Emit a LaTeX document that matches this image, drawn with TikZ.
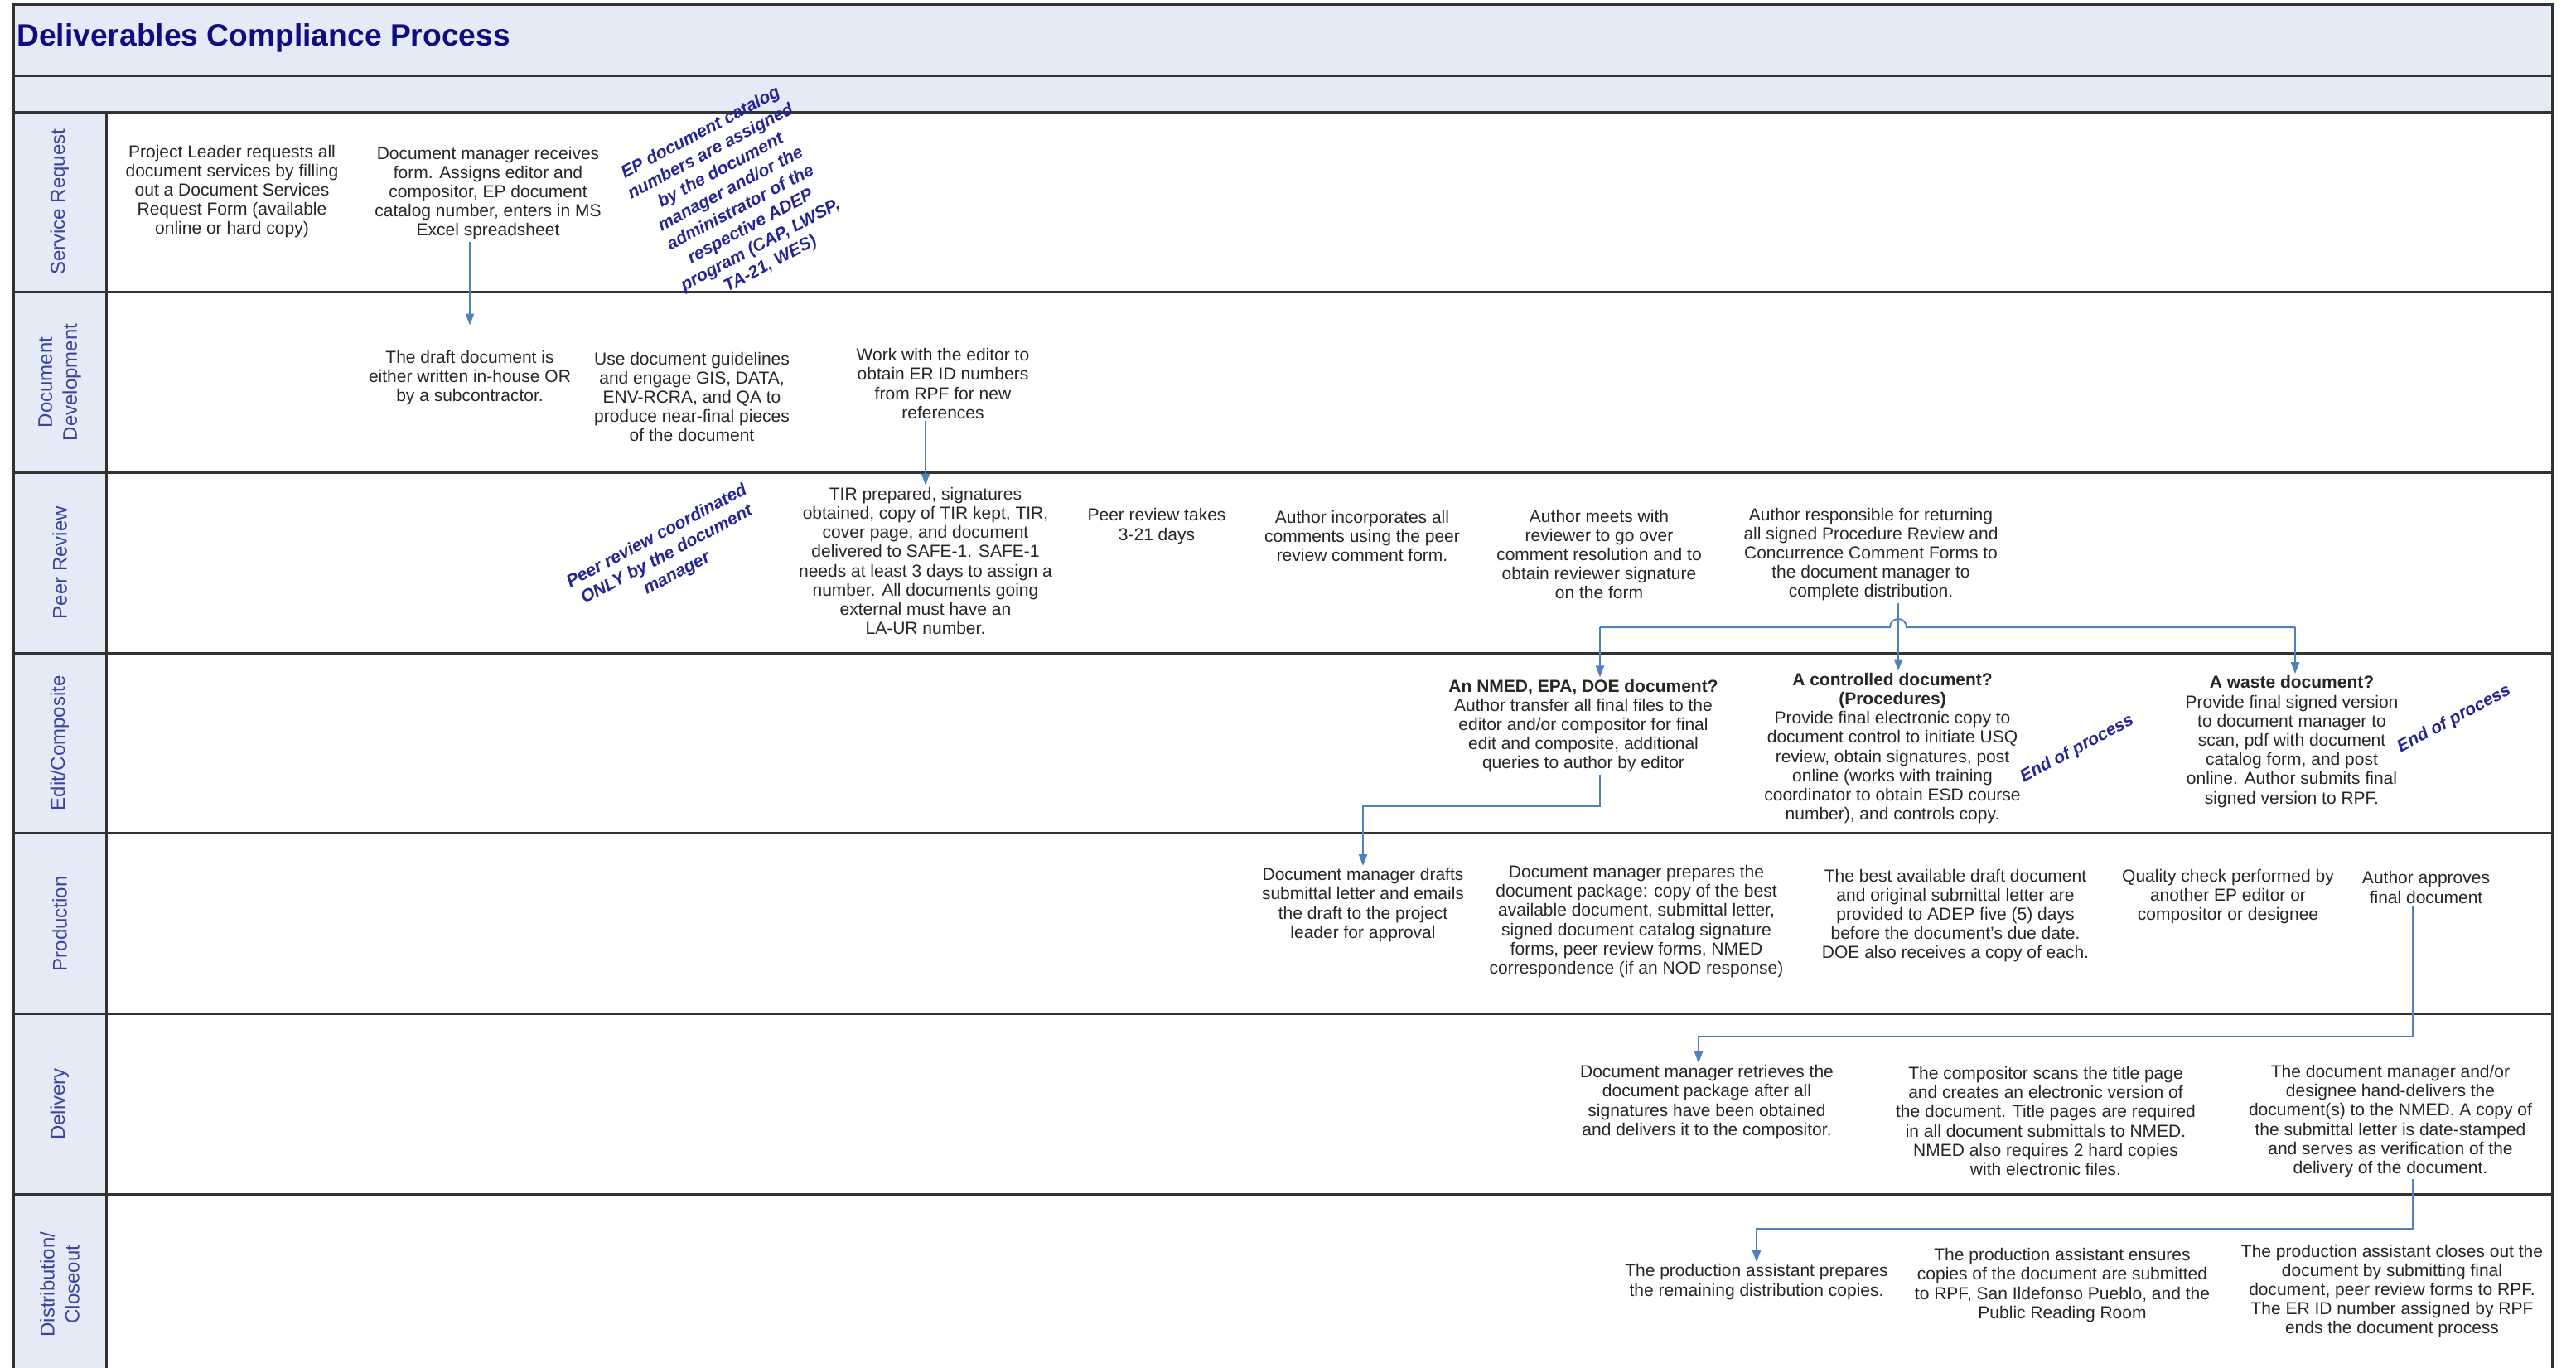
\documentclass[tikz,border=0pt]{standalone}
\usepackage{fontspec}
\setmainfont{Liberation Sans}
\usetikzlibrary{arrows.meta}

\definecolor{bandfill}{RGB}{228,235,246}
\definecolor{titleblue}{RGB}{14,14,130}
\definecolor{lanetext}{RGB}{58,68,160}
\definecolor{noteblue}{RGB}{36,36,150}
\definecolor{flowblue}{RGB}{79,129,189}
\definecolor{bodytext}{RGB}{38,38,38}
\definecolor{lanerule}{RGB}{50,50,50}

\begin{document}
\begin{tikzpicture}[x=0.5pt, y=-0.5pt,
    task/.style={align=center, text=bodytext, inner sep=1pt,
      font=\fontsize{10.5}{11.6}\selectfont},
    note/.style={align=center, text=noteblue, rotate=28, inner sep=1pt,
      font=\fontsize{10.5}{12.8}\selectfont\bfseries\itshape},
    lanelabel/.style={rotate=90, align=center, text=lanetext,
      font=\fontsize{12}{15}\selectfont},
    sep/.style={lanerule, line width=1.5pt},
    link/.style={flowblue, line width=1pt},
    flow/.style={link, -{Triangle[length=7pt,width=5pt]}}
  ]
  \clip (0,0) rectangle (3109,1650);

  % header bands and lane column
  \fill[bandfill] (16,5) rectangle (3080,135);
  \fill[bandfill] (16,135) rectangle (128,1700);
  \draw[sep] (16,91) -- (3080,91);
  \draw[sep] (16,135) -- (3080,135);
  \draw[sep] (128,135) -- (128,1700);
  \foreach \lbl [count=\i from 0] in {Service Request, {Document\\Development},
      Peer Review, Edit/Composite, Production, Delivery, {Distribution/\\Closeout}} {
    \node[lanelabel] (lane\i) at (72, {243.85+217.7*\i}) {\lbl};
    \draw[sep] (16, {352.7+217.7*\i}) -- (3080, {352.7+217.7*\i});
  }
  \draw[sep] (16,5) rectangle (3080,1700);

  \node[anchor=west, inner sep=0pt, text=titleblue,
    font=\fontsize{18.6}{22}\selectfont\bfseries] (title) at (20,46)
    {Deliverables Compliance Process};

  % service request
  \node[task] (proj) at (280,231) {Project Leader requests all\\document services by filling\\out a Document Services\\Request Form (available\\online or hard copy)};
  \node[task] (recv) at (589,233) {Document manager receives\\form. Assigns editor and\\compositor, EP document\\catalog number, enters in MS\\Excel spreadsheet};
  \node[note] (catalog) at (888,240) {EP document catalog\\numbers are assigned\\by the document\\manager and/or the\\administrator of the\\respective ADEP\\program (CAP, LWSP,\\TA-21, WES)};

  % document development
  \node[task] (draft) at (567,456) {The draft document is\\either written in-house OR\\by a subcontractor.};
  \node[task] (guide) at (835,479) {Use document guidelines\\and engage GIS, DATA,\\ENV-RCRA, and QA to\\produce near-final pieces\\of the document};
  \node[task] (erid) at (1138,463) {Work with the editor to\\obtain ER ID numbers\\from RPF for new\\references};

  % peer review
  \node[note] (peernote) at (805,670) {Peer review coordinated\\ONLY by the document\\manager};
  \node[task] (tir) at (1117,677) {TIR prepared, signatures\\obtained, copy of TIR kept, TIR,\\cover page, and document\\delivered to SAFE-1. SAFE-1\\needs at least 3 days to assign a\\number. All documents going\\external must have an\\LA-UR number.};
  \node[task] (takes) at (1396,635) {Peer review takes\\3-21 days};
  \node[task] (incorp) at (1644,647) {Author incorporates all\\comments using the peer\\review comment form.};
  \node[task] (meets) at (1930,669) {Author meets with\\reviewer to go over\\comment resolution and to\\obtain reviewer signature\\on the form};
  \node[task] (resp) at (2258,669) {Author responsible for returning\\all signed Procedure Review and\\Concurrence Comment Forms to\\the document manager to\\complete distribution.};

  % edit/composite
  \node[task] (nmed) at (1911,876) {\textbf{An NMED, EPA, DOE document?}\\Author transfer all final files to the\\editor and/or compositor for final\\edit and composite, additional\\queries to author by editor};
  \node[task] (ctrl) at (2284,903) {\textbf{A controlled document?}\\\textbf{(Procedures)}\\Provide final electronic copy to\\document control to initiate USQ\\review, obtain signatures, post\\online (works with training\\coordinator to obtain ESD course\\number), and controls copy.};
  \node[note] (end1) at (2507,904) {End of process};
  \node[task] (waste) at (2766,895) {\textbf{A waste document?}\\Provide final signed version\\to document manager to\\scan, pdf with document\\catalog form, and post\\online. Author submits final\\signed version to RPF.};
  \node[note] (end2) at (2962,868) {End of process};

  % production
  \node[task] (drafts) at (1645,1092) {Document manager drafts\\submittal letter and emails\\the draft to the project\\leader for approval};
  \node[task] (pkg) at (1975,1112) {Document manager prepares the\\document package: copy of the best\\available document, submittal letter,\\signed document catalog signature\\forms, peer review forms, NMED\\correspondence (if an NOD response)};
  \node[task] (best) at (2360,1105) {The best available draft document\\and original submittal letter are\\provided to ADEP five (5) days\\before the document's due date.\\DOE also receives a copy of each.};
  \node[task] (qc) at (2689,1082) {Quality check performed by\\another EP editor or\\compositor or designee};
  \node[task] (approve) at (2928,1071) {Author approves\\final document};

  % delivery
  \node[task] (retr) at (2060,1330) {Document manager retrieves the\\document package after all\\signatures have been obtained\\and delivers it to the compositor.};
  \node[task] (scan) at (2469,1353) {The compositor scans the title page\\and creates an electronic version of\\the document. Title pages are required\\in all document submittals to NMED.\\NMED also requires 2 hard copies\\with electronic files.};
  \node[task] (hand) at (2885,1353) {The document manager and/or\\designee hand-delivers the\\document(s) to the NMED. A copy of\\the submittal letter is date-stamped\\and serves as verification of the\\delivery of the document.};

  % distribution/closeout
  \node[task] (prep) at (2120,1547) {The production assistant prepares\\the remaining distribution copies.};
  \node[task] (ensure) at (2489,1551) {The production assistant ensures\\copies of the document are submitted\\to RPF, San Ildefonso Pueblo, and the\\Public Reading Room};
  \node[task] (close) at (2887,1558) {The production assistant closes out the\\document by submitting final\\document, peer review forms to RPF.\\The ER ID number assigned by RPF\\ends the document process};

  % connectors
  \draw[flow] (recv.south -| draft) -- ([yshift=14pt]draft.north);
  \draw[flow] (erid.south -| tir) -- (tir.north);

  \coordinate (bus-l) at (1931,757);
  \coordinate (bus-m) at (2291,757);
  \coordinate (bus-r) at (2770,757);
  \draw[link] (bus-l) -- ([xshift=-5pt]bus-m) arc[start angle=180, end angle=0, radius=5pt] -- (bus-r);
  \draw[flow] (resp.south -| bus-m) -- (bus-m |- ctrl.north);
  \draw[flow] (bus-l) -- (bus-l |- nmed.north);
  \draw[flow] (bus-r) -- (bus-r |- waste.north);

  \coordinate (ed-turn) at (1931,973);
  \draw[flow] (nmed.south -| ed-turn) -- (ed-turn) -| (drafts.north);

  \coordinate (pr-turn) at (2912,1251);
  \draw[flow] (approve.south -| pr-turn) -- (pr-turn) -| ([xshift=-5pt]retr.north);

  \coordinate (dl-turn) at (2912,1483);
  \draw[flow] (hand.south -| dl-turn) -- (dl-turn) -| (prep.north);
\end{tikzpicture}
\end{document}
